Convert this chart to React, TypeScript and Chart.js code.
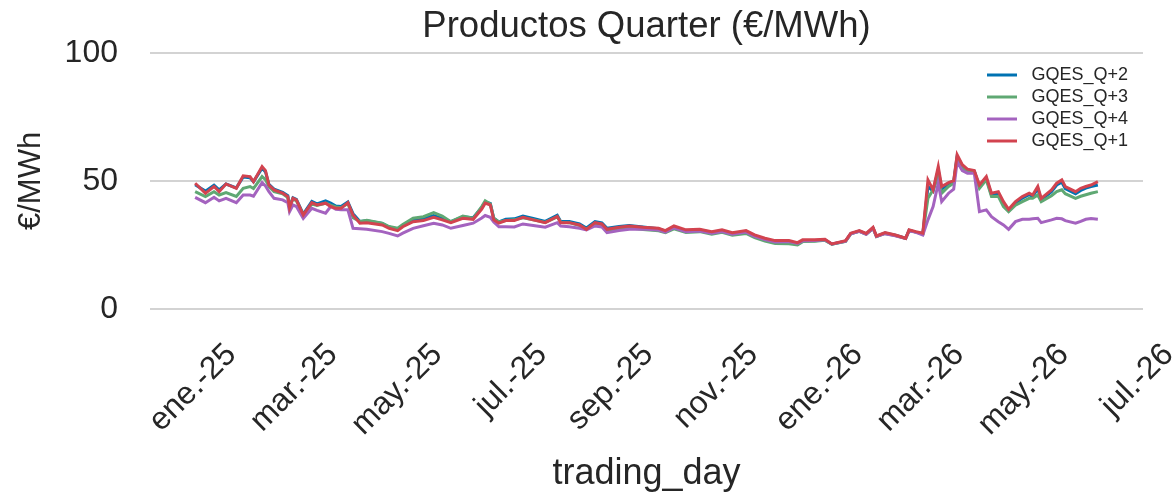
import React, { useEffect, useRef } from "react";
import { Chart, registerables } from "chart.js";

Chart.register(...registerables);

// Trading days (ISO dates)
const tradingDays = [
  "2025-01-02", "2025-01-08", "2025-01-13", "2025-01-16", "2025-01-20", "2025-01-26", "2025-01-30",
  "2025-02-03", "2025-02-05", "2025-02-10", "2025-02-12", "2025-02-14", "2025-02-17", "2025-02-22",
  "2025-02-25", "2025-02-26", "2025-02-28", "2025-03-02", "2025-03-06", "2025-03-11", "2025-03-14",
  "2025-03-19", "2025-03-22", "2025-03-25", "2025-03-28", "2025-04-01", "2025-04-04", "2025-04-08",
  "2025-04-12", "2025-04-21", "2025-04-25", "2025-04-30", "2025-05-03", "2025-05-09", "2025-05-15",
  "2025-05-21", "2025-05-26", "2025-05-31", "2025-06-07", "2025-06-13", "2025-06-18", "2025-06-20",
  "2025-06-23", "2025-06-25", "2025-06-28", "2025-07-02", "2025-07-07", "2025-07-12", "2025-07-18",
  "2025-07-25", "2025-08-01", "2025-08-03", "2025-08-08", "2025-08-14", "2025-08-18", "2025-08-23",
  "2025-08-27", "2025-08-30", "2025-09-06", "2025-09-12", "2025-09-20", "2025-09-29", "2025-10-03",
  "2025-10-08", "2025-10-15", "2025-10-23", "2025-10-30", "2025-11-05", "2025-11-11", "2025-11-19",
  "2025-11-24", "2025-11-30", "2025-12-06", "2025-12-14", "2025-12-19", "2025-12-22", "2025-12-29",
  "2026-01-04", "2026-01-08", "2026-01-16", "2026-01-19", "2026-01-24", "2026-01-28", "2026-02-01",
  "2026-02-03", "2026-02-08", "2026-02-14", "2026-02-20", "2026-02-22", "2026-02-26", "2026-03-02",
  "2026-03-05", "2026-03-08", "2026-03-11", "2026-03-13", "2026-03-17", "2026-03-20", "2026-03-22",
  "2026-03-25", "2026-03-28", "2026-04-01", "2026-04-04", "2026-04-08", "2026-04-11", "2026-04-15",
  "2026-04-18", "2026-04-21", "2026-04-25", "2026-04-29", "2026-05-03", "2026-05-05", "2026-05-08",
  "2026-05-10", "2026-05-16", "2026-05-19", "2026-05-22", "2026-05-24", "2026-05-30", "2026-06-02",
  "2026-06-05", "2026-06-08", "2026-06-12",
];

const gqesQ1 = [
  49.1, 45.2, 47.8, 45.8, 48.8, 47.1, 52.0, 51.7, 49.7, 55.6, 54.0, 48.4, 46.5, 45.2, 43.9, 39.5, 43.2,
  42.6, 36.7, 41.5, 40.6, 41.3, 40.0, 39.3, 39.3, 41.5, 36.7, 33.5, 33.7, 32.8, 31.5, 30.6, 32.1, 34.1,
  34.5, 35.8, 34.8, 33.7, 35.4, 35.0, 39.0, 41.3, 40.6, 34.8, 33.5, 34.5, 34.5, 35.8, 34.8, 33.7, 36.1,
  33.7, 33.7, 32.8, 31.1, 33.7, 33.2, 31.1, 31.9, 32.4, 31.9, 31.5, 30.6, 32.4, 30.9, 31.1, 30.2, 30.9,
  29.8, 30.6, 28.9, 27.6, 26.7, 26.7, 25.9, 27.0, 27.0, 27.2, 25.4, 26.7, 29.6, 30.6, 29.5, 31.9, 28.5,
  29.8, 28.9, 27.6, 30.9, 30.2, 29.6, 50.4, 46.5, 55.6, 47.8, 49.3, 50.1, 60.2, 56.3, 54.6, 54.0, 48.4,
  51.7, 45.2, 45.8, 41.9, 38.9, 41.9, 43.9, 45.2, 44.5, 47.8, 43.2, 46.5, 49.1, 50.4, 47.8, 45.8, 47.1,
  47.8, 48.4, 49.7,
];

const gqesQ2 = [
  48.5, 46.0, 48.3, 46.5, 48.8, 47.3, 51.5, 51.2, 49.7, 55.0, 53.5, 48.6, 46.8, 45.5, 44.2, 39.8, 43.4,
  42.8, 37.0, 42.0, 41.0, 42.2, 41.3, 40.2, 40.0, 41.8, 37.2, 34.2, 34.4, 33.4, 32.0, 31.2, 32.6, 34.8,
  35.3, 36.5, 35.4, 34.1, 36.0, 35.6, 39.6, 41.8, 41.2, 35.4, 34.0, 35.0, 35.2, 36.3, 35.3, 34.2, 36.6,
  34.2, 34.2, 33.2, 31.6, 34.1, 33.6, 31.5, 32.2, 32.6, 32.0, 31.3, 30.4, 32.0, 30.5, 30.8, 29.9, 30.5,
  29.4, 30.2, 28.5, 27.1, 26.2, 26.1, 25.4, 26.6, 26.6, 26.9, 25.3, 26.5, 29.4, 30.4, 29.3, 31.6, 28.4,
  29.6, 28.8, 27.6, 30.7, 30.0, 29.4, 47.8, 46.0, 54.3, 46.8, 48.8, 49.8, 59.6, 55.8, 54.2, 53.8, 47.8,
  51.0, 44.6, 45.0, 41.0, 38.3, 41.3, 43.3, 44.6, 43.9, 47.0, 42.6, 45.8, 48.4, 49.5, 47.0, 45.0, 46.3,
  47.2, 47.8, 48.4,
];

const gqesQ3 = [
  45.8, 43.9, 45.8, 44.5, 45.4, 43.9, 47.1, 47.8, 47.0, 51.7, 50.5, 47.8, 45.8, 45.0, 43.5, 39.5, 43.0,
  42.2, 36.7, 41.0, 40.4, 41.3, 40.5, 39.8, 39.5, 41.2, 35.6, 34.2, 34.6, 33.5, 32.2, 31.5, 33.0, 35.4,
  36.0, 37.6, 36.3, 34.1, 36.3, 35.4, 40.0, 42.2, 41.0, 35.4, 34.0, 34.5, 34.8, 35.6, 34.8, 33.8, 36.0,
  33.9, 33.7, 32.6, 31.1, 33.4, 33.0, 30.8, 31.4, 31.7, 31.0, 30.5, 29.8, 31.3, 29.9, 30.2, 29.2, 29.9,
  28.8, 29.5, 27.9, 26.5, 25.6, 25.5, 25.0, 26.3, 26.4, 26.8, 25.3, 26.4, 29.3, 30.3, 29.2, 31.5, 28.3,
  29.5, 28.7, 27.5, 30.6, 30.0, 29.3, 43.2, 46.5, 51.7, 45.2, 47.8, 49.1, 58.9, 55.0, 53.7, 53.7, 47.1,
  50.4, 43.9, 44.0, 40.0, 38.0, 40.5, 41.9, 43.2, 43.2, 44.5, 41.9, 44.2, 45.8, 46.5, 45.0, 43.2, 44.0,
  44.6, 45.2, 45.8,
];

const gqesQ4 = [
  43.6, 41.5, 43.6, 42.2, 43.2, 41.5, 44.5, 44.5, 44.0, 49.3, 48.0, 45.8, 43.2, 42.6, 41.5, 38.0, 40.6,
  40.0, 35.4, 39.3, 38.5, 37.4, 40.0, 38.9, 38.7, 38.7, 31.5, 31.3, 31.1, 30.2, 29.5, 28.5, 29.6, 31.5,
  32.5, 33.5, 32.8, 31.5, 32.6, 33.5, 35.5, 36.5, 35.8, 34.0, 32.1, 32.1, 32.0, 33.2, 32.6, 31.9, 33.7,
  32.4, 32.1, 31.5, 30.9, 32.4, 32.0, 29.8, 30.6, 31.1, 31.2, 30.8, 30.0, 31.7, 30.2, 30.4, 29.6, 30.2,
  29.2, 30.0, 28.4, 27.1, 26.2, 26.3, 25.6, 26.6, 26.7, 27.0, 25.4, 26.5, 29.4, 30.3, 29.2, 31.5, 28.3,
  29.4, 28.6, 27.5, 30.5, 29.9, 28.9, 34.8, 40.0, 49.1, 41.9, 45.2, 46.8, 57.5, 54.0, 53.0, 53.0, 38.0,
  38.7, 36.0, 34.1, 32.8, 31.1, 34.1, 35.0, 35.0, 35.2, 35.4, 33.7, 34.8, 35.4, 35.2, 34.5, 33.5, 34.2,
  35.0, 35.3, 35.0,
];

const tickDates = [
  "2025-01-01", "2025-03-01", "2025-05-01", "2025-07-01", "2025-09-01",
  "2025-11-01", "2026-01-01", "2026-03-01", "2026-05-01", "2026-07-01",
];
const tickLabels = [
  "ene.-25", "mar.-25", "may.-25", "jul.-25", "sep.-25",
  "nov.-25", "ene.-26", "mar.-26", "may.-26", "jul.-26",
];
const yTicks = [0, 50, 100];

const FONT = "'Liberation Sans', Arial, Helvetica, sans-serif";
const TEXT = "#262626";
const BASE = Date.UTC(2025, 0, 1);
const toDay = (s: string) => (Date.parse(s + "T00:00:00Z") - BASE) / 86400000;

export default function App() {
  const ref = useRef<HTMLCanvasElement | null>(null);

  useEffect(() => {
    if (!ref.current) return;
    const xs = tradingDays.map(toDay);
    const first = xs[0];
    const last = xs[xs.length - 1];
    const span = last - first;
    const series = [
      { label: "GQES_Q+2", data: gqesQ2, color: "#0072B2", order: 4 },
      { label: "GQES_Q+3", data: gqesQ3, color: "#5FA873", order: 3 },
      { label: "GQES_Q+4", data: gqesQ4, color: "#A463BF", order: 2 },
      { label: "GQES_Q+1", data: gqesQ1, color: "#D2434F", order: 1 },
    ];

    const legendPlacer = {
      id: "legendPlacer",
      beforeDraw(chart: any) {
        const lg = chart.legend;
        if (!lg) return;
        lg.left = 983;
        lg.right = 1128;
        lg.top = 62;
        lg.bottom = 200;
        lg.width = lg.right - lg.left;
        lg.height = lg.bottom - lg.top;
      },
    };

    const chart = new Chart(ref.current, {
      type: "line",
      data: {
        datasets: series.map((s) => ({
          label: s.label,
          data: s.data.map((v, i) => ({ x: xs[i], y: v })),
          borderColor: s.color,
          backgroundColor: s.color,
          borderWidth: 3,
          pointRadius: 0,
          tension: 0,
          order: s.order,
        })),
      },
      options: {
        responsive: false,
        animation: false,
        events: [],
        layout: { padding: { left: 0, right: 33, top: 0, bottom: 0 } },
        plugins: {
          title: {
            display: true,
            text: "Productos Quarter (€/MWh)",
            fullSize: false,
            color: TEXT,
            font: { family: FONT, size: 36.5, weight: "normal" },
            padding: { top: 5, bottom: 4 },
          },
          legend: {
            display: true,
            position: "chartArea",
            align: "start",
            labels: {
              usePointStyle: true,
              pointStyle: "line",
              pointStyleWidth: 30,
              padding: 4,
              color: TEXT,
              textAlign: "right",
              font: { family: FONT, size: 18 },
              sort: (a: any, b: any) => a.datasetIndex - b.datasetIndex,
            },
          },
          tooltip: { enabled: false },
        },
        scales: {
          x: {
            type: "linear",
            min: first - 0.05 * span,
            max: last + 0.05 * span,
            afterBuildTicks: (axis: any) => {
              axis.ticks = tickDates.map((d) => ({ value: toDay(d) }));
            },
            afterFit: (axis: any) => {
              axis.height = 185;
              axis.paddingLeft = 0;
              axis.paddingRight = 0;
            },
            ticks: {
              autoSkip: false,
              minRotation: 45,
              maxRotation: 45,
              padding: 27,
              labelOffset: 38,
              color: TEXT,
              font: { family: FONT, size: 32 },
              callback: (_v: any, i: number) => tickLabels[i],
            },
            grid: { display: false, drawTicks: false },
            border: { display: false },
            title: {
              display: true,
              text: "trading_day",
              color: TEXT,
              font: { family: FONT, size: 36 },
              padding: { top: 0, bottom: -2 },
            },
          },
          y: {
            min: 0,
            max: 100,
            afterBuildTicks: (axis: any) => {
              axis.ticks = yTicks.map((v) => ({ value: v }));
            },
            afterFit: (axis: any) => {
              axis.width = 150;
              axis.paddingTop = 0;
              axis.paddingBottom = 0;
            },
            ticks: {
              padding: 32,
              color: TEXT,
              font: { family: FONT, size: 32 },
            },
            grid: { color: "#d3d3d3", lineWidth: 2, drawTicks: false },
            border: { display: false },
            title: {
              display: true,
              text: "€/MWh",
              color: TEXT,
              font: { family: FONT, size: 31 },
              padding: { top: 13, bottom: 0 },
            },
          },
        },
      },
      plugins: [legendPlacer],
    } as any);

    return () => chart.destroy();
  }, []);

  return (
    <div style={{ position: "absolute", left: 0, top: 0, width: 1176, height: 494, background: "#fff" }}>
      <canvas ref={ref} width={1176} height={494} style={{ display: "block", width: 1176, height: 494 }} />
    </div>
  );
}
